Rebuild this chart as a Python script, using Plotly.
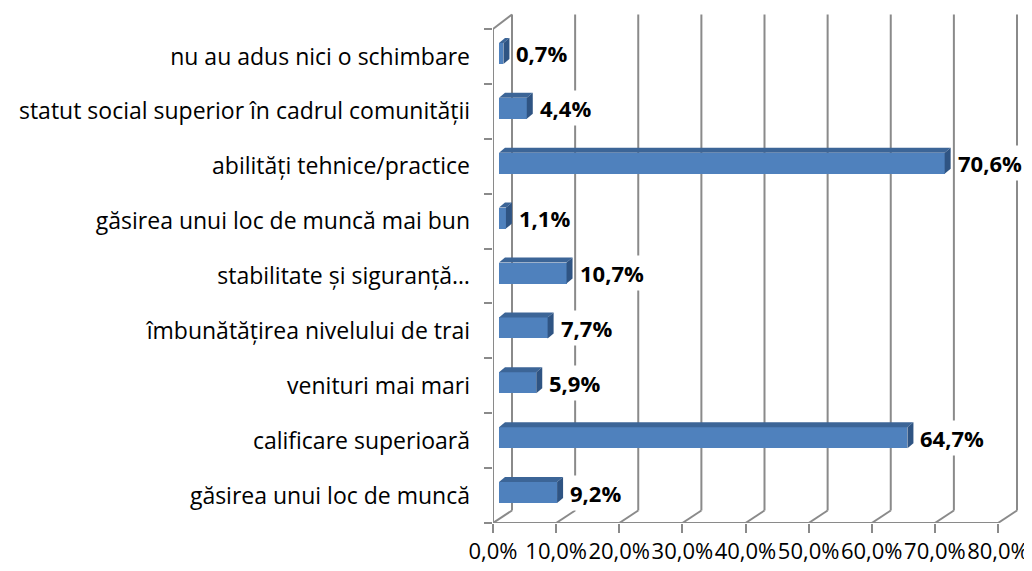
import plotly.graph_objects as go

# ---- data ----
categories = [
    "găsirea unui loc de muncă",
    "calificare superioară",
    "venituri mai mari",
    "îmbunătățirea nivelului de trai",
    "stabilitate și siguranță…",
    "găsirea unui loc de muncă mai bun",
    "abilități tehnice/practice",
    "statut social superior în cadrul comunității",
    "nu au adus nici o schimbare",
]
values = [9.2, 64.7, 5.9, 7.7, 10.7, 1.1, 70.6, 4.4, 0.7]
x_ticks = [0, 10, 20, 30, 40, 50, 60, 70, 80]
x_tick_labels = ["0,0%", "10,0%", "20,0%", "30,0%", "40,0%", "50,0%", "60,0%", "70,0%", "80,0%"]
value_labels = ["9,2%", "64,7%", "5,9%", "7,7%", "10,7%", "1,1%", "70,6%", "4,4%", "0,7%"]

# ---- layout geometry (page has an 8px body margin) ----
W, H = 1024, 563
ML, MR, MT, MB = 485, 10, 4, 48
PX_X = 505 / 80.0           # pixels per percent
N = len(categories)
PX_Y = 494 / N              # pixels per category
XMAX = (W - ML - MR) / PX_X
YMIN = -0.5
YMAX = YMIN + (H - MT - MB) / PX_Y

# wall depth (in data units)
DX = 19 / PX_X
DYB = 12.5 / PX_Y
DYT = 14.5 / PX_Y
# bar geometry
BASE = 6 / PX_X
BAR_H = 21 / PX_Y
BAR_SHIFT = 3 / PX_Y
BDX = 6 / PX_X
BDY = 5 / PX_Y

GRID = "#8a8a8a"
FRONT = "#4F81BD"
TOP = "#3C6597"
SIDE = "#2F5483"
FONT = "Open Sans"

ypos = list(range(N))
fig = go.Figure()
fig.add_trace(go.Bar(
    y=ypos, x=values, orientation="h", base=BASE,
    width=BAR_H, offset=BAR_SHIFT - BAR_H / 2,
    marker=dict(color=FRONT, line=dict(width=0)),
    hoverinfo="skip", showlegend=False,
))

shapes = []
ln = dict(color=GRID, width=2)
# back wall gridlines + floor diagonals
for v in x_ticks:
    shapes.append(dict(type="line", x0=v + DX, x1=v + DX, y0=YMIN + DYB, y1=N - 0.5 + DYT,
                       line=ln, layer="below"))
    shapes.append(dict(type="line", x0=v, x1=v + DX, y0=YMIN, y1=YMIN + DYB,
                       line=ln, layer="below"))
# front floor edge
shapes.append(dict(type="line", x0=0, x1=x_ticks[-1], y0=YMIN, y1=YMIN, line=ln, layer="below"))
# left wall front edge and top edge
shapes.append(dict(type="line", x0=0, x1=0, y0=YMIN, y1=N - 0.5, line=ln, layer="below"))
shapes.append(dict(type="line", x0=0, x1=DX, y0=N - 0.5, y1=N - 0.5 + DYT, line=ln, layer="below"))

# 3D faces of bars
for c, v in zip(ypos, values):
    yb = c + BAR_SHIFT - BAR_H / 2
    yt = c + BAR_SHIFT + BAR_H / 2
    x0 = BASE
    x1 = BASE + v
    top = f"M{x0},{yt} L{x1},{yt} L{x1 + BDX},{yt + BDY} L{x0 + BDX},{yt + BDY} Z"
    side = f"M{x1},{yb} L{x1},{yt} L{x1 + BDX},{yt + BDY} L{x1 + BDX},{yb + BDY} Z"
    shapes.append(dict(type="path", path=top, fillcolor=TOP, line=dict(width=0), layer="above"))
    shapes.append(dict(type="path", path=side, fillcolor=SIDE, line=dict(width=0), layer="above"))

annotations = []
for c, v, t in zip(ypos, values, value_labels):
    annotations.append(dict(
        x=BASE + v + BDX, y=c + BAR_SHIFT, text=t, showarrow=False,
        xanchor="left", yanchor="middle", xshift=4,
        bgcolor="white", borderpad=2,
        font=dict(family=FONT, size=22, color="#000000", weight="bold"),
    ))

fig.update_layout(
    width=W, height=H,
    margin=dict(l=ML, r=MR, t=MT, b=MB, pad=0, autoexpand=False),
    paper_bgcolor="white", plot_bgcolor="white",
    shapes=shapes, annotations=annotations,
    bargap=0,
    xaxis=dict(range=[0, XMAX], tickmode="array", tickvals=x_ticks, ticktext=x_tick_labels,
               ticks="outside", ticklen=9, tickwidth=2, tickcolor=GRID, tickangle=0,
               automargin=False,
               showgrid=False, zeroline=False, showline=False, fixedrange=True,
               tickfont=dict(family=FONT, size=22, color="#000000")),
    yaxis=dict(range=[YMIN, YMAX], tickmode="array", tickvals=ypos, ticktext=categories,
               ticks="", showgrid=False, zeroline=False, showline=False, fixedrange=True,
               ticklabelstandoff=22, automargin=False,
               minor=dict(tickmode="array", tickvals=[i - 0.5 for i in range(N + 1)],
                          ticks="outside", ticklen=8, tickwidth=2, tickcolor=GRID, showgrid=False),
               tickfont=dict(family=FONT, size=23, color="#000000")),
)

fig.write_html("out.html")
